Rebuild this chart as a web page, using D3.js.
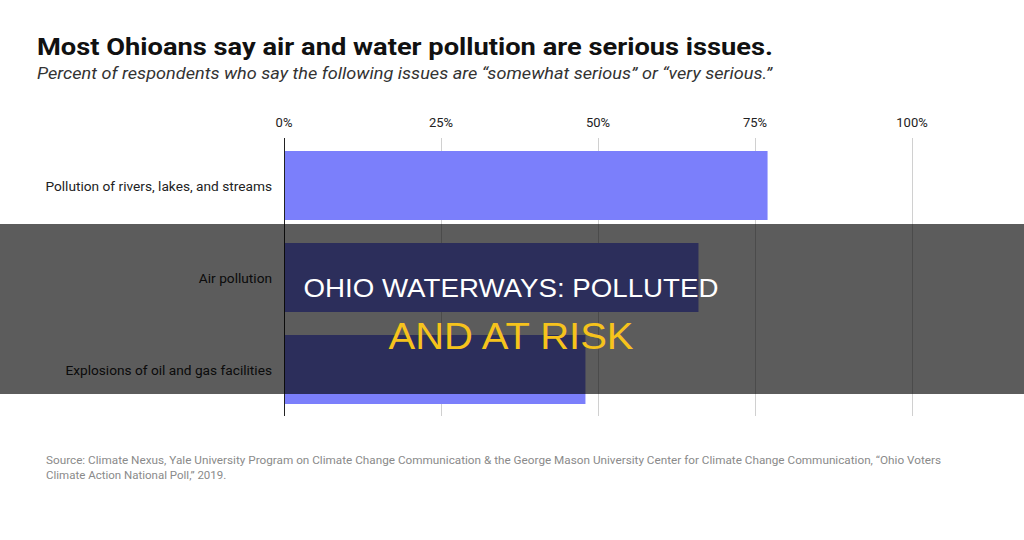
<!DOCTYPE html>
<html><head><meta charset="utf-8">
<script src="https://cdn.jsdelivr.net/npm/d3@7"></script>
<style>html,body{margin:0;padding:0;background:#fff;}svg{display:block;}</style>
</head><body>
<svg id="c" width="1024" height="540"></svg>
<script>
const categories = ["Pollution of rivers, lakes, and streams", "Air pollution", "Explosions of oil and gas facilities"];
const values = [77, 66, 48];
const tickValues = [0, 25, 50, 75, 100];
const tickLabels = ["0%", "25%", "50%", "75%", "100%"];
const titleText = "Most Ohioans say air and water pollution are serious issues.";
const subtitleText = "Percent of respondents who say the following issues are \u201csomewhat serious\u201d or \u201cvery serious.\u201d";
const sourceLines = ["Source: Climate Nexus, Yale University Program on Climate Change Communication & the George Mason University Center for Climate Change Communication, \u201cOhio Voters", "Climate Action National Poll,\u201d 2019."];
const overlayLines = ["OHIO WATERWAYS: POLLUTED", "AND AT RISK"];

const svg = d3.select("#c");
const x = d3.scaleLinear().domain([0, 100]).range([284, 912]);
const y = d3.scaleBand().domain(categories).range([139.5, 415.5]).paddingInner(0.25).paddingOuter(0.125);

// title
svg.append("text").attr("x", 37).attr("y", 55).attr("font-family", "Roboto, sans-serif")
  .attr("font-weight", 700).attr("font-size", 23.5).attr("fill", "#111")
  .attr("textLength", 736).attr("lengthAdjust", "spacingAndGlyphs").text(titleText);
svg.append("text").attr("x", 37).attr("y", 79).attr("font-family", "Roboto, sans-serif")
  .attr("font-style", "italic").attr("font-size", 17).attr("fill", "#333")
  .attr("textLength", 735).attr("lengthAdjust", "spacingAndGlyphs").text(subtitleText);

// gridlines
svg.append("g").selectAll("line").data(tickValues).join("line")
  .attr("x1", d => x(d) + 0.5).attr("x2", d => x(d) + 0.5)
  .attr("y1", 138).attr("y2", 416)
  .attr("stroke", d => d === 0 ? "#222" : "#d0d0d0").attr("stroke-width", 1);

// tick labels
svg.append("g").selectAll("text").data(tickValues).join("text")
  .attr("x", d => x(d)).attr("y", 127).attr("text-anchor", "middle")
  .attr("font-family", "Roboto, sans-serif").attr("font-size", 13).attr("fill", "#222")
  .text((d, i) => tickLabels[i]);

// bars
svg.append("g").selectAll("rect").data(values).join("rect")
  .attr("x", x(0) + 1).attr("y", (d, i) => y(categories[i]))
  .attr("width", d => x(d) - x(0) - 1).attr("height", y.bandwidth())
  .attr("fill", "#7b7ffb");

// category labels
svg.append("g").selectAll("text").data(categories).join("text")
  .attr("x", 272).attr("y", d => y(d) + y.bandwidth() / 2 + 5)
  .attr("text-anchor", "end").attr("font-family", "Roboto, sans-serif")
  .attr("font-size", 13.7).attr("fill", "#222").text(d => d);

// source
svg.append("g").selectAll("text").data(sourceLines).join("text")
  .attr("x", 46).attr("y", (d, i) => 464 + i * 15)
  .attr("font-family", "Roboto, sans-serif").attr("font-size", 11.5).attr("fill", "#8a8a8a")
  .each(function(d, i){ if (i === 0) d3.select(this).attr("textLength", 895).attr("lengthAdjust", "spacingAndGlyphs"); })
  .text(d => d);

// overlay band
svg.append("rect").attr("x", 0).attr("y", 224).attr("width", 1024).attr("height", 170)
  .attr("fill", "rgba(0,0,0,0.64)");
svg.append("text").attr("x", 511).attr("y", 297).attr("text-anchor", "middle")
  .attr("font-family", "'Liberation Sans', Arial, sans-serif").attr("font-size", 25.5)
  .attr("fill", "#ffffff").attr("textLength", 415).attr("lengthAdjust", "spacingAndGlyphs")
  .text(overlayLines[0]);
svg.append("text").attr("x", 511).attr("y", 349).attr("text-anchor", "middle")
  .attr("font-family", "'Liberation Sans', Arial, sans-serif").attr("font-size", 36)
  .attr("fill", "#f6c31c").attr("textLength", 245).attr("lengthAdjust", "spacingAndGlyphs")
  .text(overlayLines[1]);
</script>
</body></html>
